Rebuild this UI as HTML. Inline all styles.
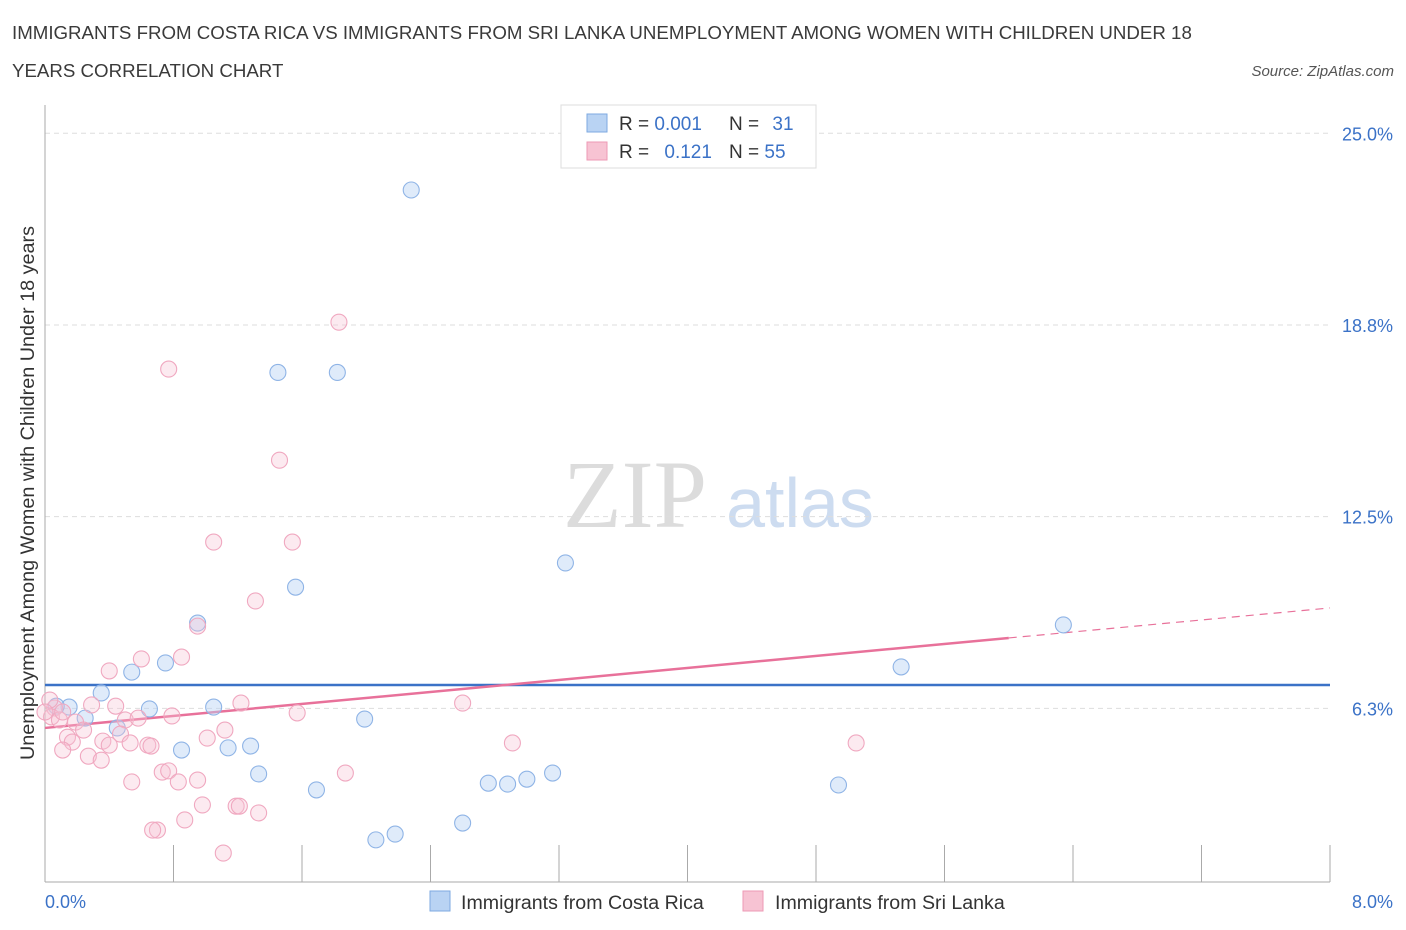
<!DOCTYPE html>
<html><head><meta charset="utf-8">
<style>
body{margin:0;background:#fff;font-family:"Liberation Sans",sans-serif;}
#wrap{position:relative;width:1406px;height:930px;overflow:hidden;}
</style></head>
<body>
<div id="wrap">
<svg id="chart" width="1406" height="930" xmlns="http://www.w3.org/2000/svg">
<text x="12" y="39" font-size="18.7" fill="#3a3a3a">IMMIGRANTS FROM COSTA RICA VS IMMIGRANTS FROM SRI LANKA UNEMPLOYMENT AMONG WOMEN WITH CHILDREN UNDER 18</text>
<text x="12" y="77" font-size="18.7" fill="#3a3a3a">YEARS CORRELATION CHART</text>
<text x="1394" y="76" font-size="15" fill="#555" font-style="italic" text-anchor="end">Source: ZipAtlas.com</text>
<text x="635" y="527" font-size="96" fill="#dcdcdc" text-anchor="middle" font-family="Liberation Serif,serif">ZIP</text>
<text x="800" y="527" font-size="70" fill="#cddcf0" text-anchor="middle">atlas</text>
<text transform="translate(34,493) rotate(-90)" font-size="19.8" fill="#333" text-anchor="middle">Unemployment Among Women with Children Under 18 years</text>
<g id="grid"></g><g id="axes"></g><g id="trends"></g><g id="points"></g>
<g>
<rect x="561" y="105" width="255" height="63" fill="#fff" stroke="#ddd"/>
<rect x="587" y="114" width="20" height="18" fill="#b9d3f3" stroke="#7ea9e0"/>
<text x="619" y="130" font-size="19" fill="#333">R = <tspan fill="#3b72c7">0.001</tspan></text>
<text x="729" y="130" font-size="19" fill="#333">N = <tspan fill="#3b72c7" dx="8">31</tspan></text>
<rect x="587" y="142" width="20" height="18" fill="#f7c3d3" stroke="#ee9ab4"/>
<text x="619" y="158" font-size="19" fill="#333">R = <tspan fill="#3b72c7" dx="10">0.121</tspan></text>
<text x="729" y="158" font-size="19" fill="#333">N = <tspan fill="#3b72c7">55</tspan></text>
</g>
<rect x="430" y="891" width="20" height="20" fill="#b9d3f3" stroke="#7ea9e0"/>
<text x="461" y="909" font-size="19.6" fill="#333">Immigrants from Costa Rica</text>
<rect x="743" y="891" width="20" height="20" fill="#f7c3d3" stroke="#ee9ab4"/>
<text x="775" y="909" font-size="19.6" fill="#333">Immigrants from Sri Lanka</text>
<text x="45" y="908" font-size="18" fill="#3b72c7">0.0%</text>
<text x="1393" y="908" font-size="18" fill="#3b72c7" text-anchor="end">8.0%</text>
</svg>
</div>
<script>
const yTicks=[25.0,18.75,12.5,6.25];
const yTickLabels=["25.0%","18.8%","12.5%","6.3%"];
const xTicks=[0,0.8,1.6,2.4,3.2,4.0,4.8,5.6,6.4,7.2,8.0];
const blueX=[2.28,1.45,1.82,3.24,1.56,0.95,6.34,5.33,0.75,0.54,0.35,1.05,0.65,0.15,0.07,0.25,1.99,0.45,0.85,1.14,1.28,1.33,3.16,3.0,2.76,2.88,4.94,1.69,2.6,2.18,2.06];
const blueY=[23.15,17.2,17.2,10.99,10.2,9.03,8.97,7.6,7.73,7.43,6.75,6.29,6.23,6.29,6.32,5.93,5.9,5.61,4.89,4.96,5.02,4.11,4.14,3.94,3.81,3.78,3.75,3.59,2.51,2.15,1.96];
const pinkX=[1.83,0.77,1.46,1.05,1.54,1.31,0.95,0.85,0.6,0.4,1.22,2.6,1.57,0.79,0.44,0.29,0.06,0.04,0.09,0.19,0.24,0.5,0.58,0.47,0.14,0.36,0.4,0.17,0.11,0.53,0.64,0.66,1.12,1.01,2.91,5.05,0.27,0.35,0.73,0.77,1.87,0.54,0.83,0.95,0.98,1.19,1.21,1.33,0.87,0.7,0.67,1.11,0.03,0.0,0.11];
const pinkY=[18.84,17.31,14.34,11.67,11.67,9.75,8.93,7.92,7.86,7.47,6.42,6.42,6.1,6.0,6.32,6.36,6.26,5.97,5.87,5.8,5.54,5.87,5.93,5.41,5.31,5.18,5.05,5.15,4.89,5.12,5.05,5.02,5.54,5.28,5.12,5.12,4.69,4.56,4.17,4.21,4.14,3.85,3.85,3.91,3.1,3.06,3.06,2.84,2.61,2.28,2.28,1.53,6.52,6.13,6.13];
const blueTrend=[7.01,0];      // intercept, slope
const pinkTrend=[5.61,0.489];  // intercept, slope
const pinkSolidEnd=6.0;

const X0=45,X1=1330,Yb=900,pxPerY=30.67;
const sx=v=>X0+(X1-X0)*v/8;
const sy=v=>Yb-v*pxPerY;
const NS="http://www.w3.org/2000/svg";
function mk(tag,attrs,parent){const e=document.createElementNS(NS,tag);for(const k in attrs)e.setAttribute(k,attrs[k]);document.getElementById(parent).appendChild(e);return e;}

yTicks.forEach((t,i)=>{
  const l=mk('line',{x1:45,x2:1330,y1:sy(t),y2:sy(t),stroke:'#ddd','stroke-dasharray':'5,4'},'grid');
  
  
  const tx=mk('text',{x:1393,y:sy(t)+7,'font-size':18,fill:'#3b72c7','text-anchor':'end'},'grid');
  tx.textContent=yTickLabels[i];
  
  
});
const ya=mk('line',{x1:45,x2:45,y1:105,y2:882,stroke:'#aaa'},'axes');


const xa=mk('line',{x1:45,x2:1330,y1:882,y2:882,stroke:'#aaa'},'axes');


xTicks.forEach(t=>{
  const l=mk('line',{x1:sx(t),x2:sx(t),y1:845,y2:882,stroke:'#aaa'},'axes');
  
  
});
blueX.forEach((x,i)=>{
  const c=mk('circle',{cx:sx(x),cy:sy(blueY[i]),r:8,fill:'rgba(185,211,243,0.45)',stroke:'#8fb4e6','stroke-width':1.1},'points');
  
  
});
pinkX.forEach((x,i)=>{
  const c=mk('circle',{cx:sx(x),cy:sy(pinkY[i]),r:8,fill:'rgba(247,195,211,0.35)',stroke:'#f0a8c0','stroke-width':1.1},'points');
  
  
});
const bt=mk('line',{x1:sx(0),x2:sx(8),y1:sy(blueTrend[0]),y2:sy(blueTrend[0]+blueTrend[1]*8),stroke:'#3b72c7','stroke-width':2.5},'trends');


const pt=mk('line',{x1:sx(0),x2:sx(pinkSolidEnd),y1:sy(pinkTrend[0]),y2:sy(pinkTrend[0]+pinkTrend[1]*pinkSolidEnd),stroke:'#e8719a','stroke-width':2.5},'trends');


const pd=mk('line',{x1:sx(pinkSolidEnd),x2:sx(8),y1:sy(pinkTrend[0]+pinkTrend[1]*pinkSolidEnd),y2:sy(pinkTrend[0]+pinkTrend[1]*8),stroke:'#e8719a','stroke-width':1.2,'stroke-dasharray':'8,6'},'trends');


</script>
</body></html>
